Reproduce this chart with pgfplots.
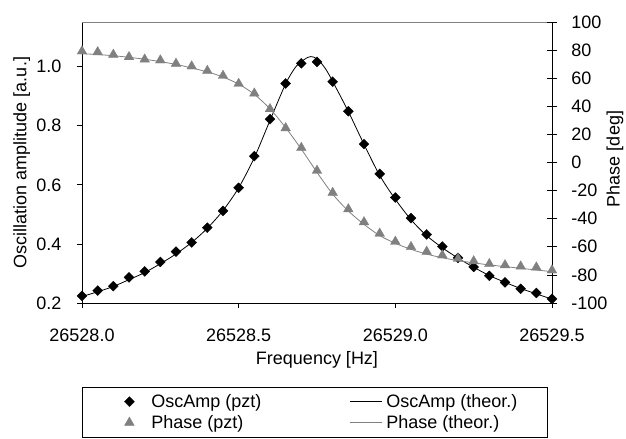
\documentclass[border=0pt]{standalone}
\usepackage{fontspec}
\setmainfont{Liberation Sans}
\usepackage{pgfplots}
\pgfplotsset{compat=1.18}
\definecolor{phasegray}{RGB}{128,128,128}
\newcommand{\fs}{\fontsize{18bp}{21.6bp}\selectfont}

% Frequency is stored as offset from 26528 Hz (offset in Hz)
\pgfplotstableread{
f amp
0.00 0.224
0.05 0.242
0.10 0.257
0.15 0.287
0.20 0.307
0.25 0.339
0.30 0.374
0.35 0.405
0.40 0.455
0.45 0.512
0.50 0.590
0.55 0.697
0.60 0.822
0.65 0.943
0.70 1.011
0.75 1.016
0.80 0.949
0.85 0.849
0.90 0.738
0.95 0.637
1.00 0.557
1.05 0.487
1.10 0.432
1.15 0.391
1.20 0.353
1.25 0.322
1.30 0.292
1.35 0.270
1.40 0.248
1.45 0.234
1.50 0.214
}\ampdata

\pgfplotstableread{
f amp
0.00 0.222
0.05 0.238
0.10 0.256
0.15 0.279
0.20 0.303
0.25 0.333
0.30 0.366
0.35 0.405
0.40 0.453
0.45 0.513
0.50 0.590
0.55 0.692
0.60 0.818
0.65 0.942
0.68 0.996
0.70 1.017
0.72 1.031
0.73 1.034
0.74 1.032
0.76 1.016
0.78 0.988
0.80 0.950
0.85 0.848
0.90 0.737
0.95 0.632
1.00 0.551
1.05 0.482
1.10 0.428
1.15 0.387
1.20 0.352
1.25 0.321
1.30 0.293
1.35 0.270
1.40 0.249
1.45 0.231
1.50 0.213
}\amptheor

\pgfplotstableread{
f ph
0.00 79.2
0.05 78.6
0.10 76.8
0.15 75.1
0.20 73.4
0.25 72.8
0.30 70.4
0.35 68.5
0.40 65.3
0.45 61.8
0.50 56.1
0.55 49.2
0.60 38.1
0.65 24.5
0.70 10.5
0.75 -5.8
0.80 -21.5
0.85 -33.2
0.90 -42.4
0.95 -50.5
1.00 -56.3
1.05 -60.1
1.10 -63.4
1.15 -66.0
1.20 -68.4
1.25 -70.2
1.30 -72.2
1.35 -73.0
1.40 -73.9
1.45 -74.6
1.50 -76.7
}\phdata

\pgfplotstableread{
f ph
0.00 77.5
0.10 76.0
0.20 73.5
0.30 69.8
0.40 64.5
0.45 60.8
0.50 55.8
0.55 48.5
0.60 38.2
0.65 24.8
0.70 9.5
0.75 -7.0
0.80 -22.5
0.85 -34.5
0.90 -44.0
0.95 -52.0
1.00 -57.5
1.05 -61.8
1.10 -65.2
1.15 -67.8
1.20 -69.8
1.25 -71.4
1.30 -72.9
1.40 -75.3
1.50 -77.7
}\phtheor

\pgfplotsset{
  common/.style={
    scale only axis, width=470bp, height=281bp, at={(0,0)}, anchor=south west,
    xmin=0, xmax=1.5,
    tick label style={font=\fs},
    label style={font=\fs},
    axis line style={black, line width=0.8bp},
    major tick style={black, line width=0.8bp},
    clip=false,
  },
  ampmark/.style={only marks, mark=diamond*, mark size=5bp, mark options={xscale=1.333, fill=black, draw=black, line width=0.3bp}},
  phmark/.style={only marks, mark=triangle*, mark size=5.6bp, mark options={fill=phasegray, draw=phasegray, line width=0.3bp}},
  markimg/.style={legend image code/.code={\path[draw=none,fill=none] (0bp,0bp) -- (69bp,0bp); \draw[##1] plot coordinates {(47bp,0bp)};}},
  lineimg/.style={legend image code/.code={\path[draw=none,fill=none] (0bp,0bp) -- (36bp,0bp); \draw[##1] (0bp,0bp) -- (32bp,0bp);}},
}

\begin{document}
\begin{tikzpicture}
\begin{axis}[common,
  axis x line*=bottom, axis y line*=left,
  ymin=0.2, ymax=1.151,
  xtick={0,0.5,1,1.5}, xticklabels={26528.0,26528.5,26529.0,26529.5},
  ytick={0.2,0.4,0.6,0.8,1.0}, yticklabels={0.2,0.4,0.6,0.8,1.0},
  tick align=outside, major tick length=5bp,
  xticklabel style={anchor=base, inner sep=0pt, yshift=-33.7bp},
  yticklabel style={anchor=east, inner sep=0pt, xshift=-15.3bp},
  xlabel={Frequency [Hz]}, ylabel={Oscillation amplitude [a.u.]},
  every axis x label/.style={at={(axis description cs:0.5,0)}, anchor=base, yshift=-61.3bp, font=\fs},
  every axis y label/.style={at={(axis description cs:-0.1185,0.5)}, anchor=base, rotate=90, font=\fs},
]
\draw[phasegray, line width=0.8bp] (rel axis cs:0,1) -- (rel axis cs:1,1);
\addplot[black, line width=0.8bp, smooth, no markers] table[x=f, y=amp] {\amptheor};
\addplot[ampmark] table[x=f, y=amp] {\ampdata};
\end{axis}
\begin{axis}[common,
  axis y line*=right, axis x line=none,
  ymin=-100, ymax=100,
  ytick={-100,-80,-60,-40,-20,0,20,40,60,80,100},
  yticklabels={-100,-80,-60,-40,-20,0,20,40,60,80,100},
  tick align=center, major tick length=10bp,
  yticklabel style={anchor=west, inner sep=0pt, xshift=14.2bp},
  ylabel={Phase [deg]},
  every axis y label/.style={at={(axis description cs:1.1438,0.5125)}, anchor=base, rotate=90, font=\fs},
  legend columns=2,
  legend cell align=left,
  legend style={at={(axis description cs:0,-0.2985)}, anchor=north west, draw=black, line width=0.8bp,
    inner xsep=0pt, inner ysep=7.1bp, row sep=6.4bp, column sep=0pt, font=\fs,
    nodes={inner xsep=0pt, inner ysep=0pt}},
]
\addplot[phasegray, line width=0.8bp, smooth, no markers, forget plot] table[x=f, y=ph] {\phtheor};
\addplot[phmark, forget plot] table[x=f, y=ph] {\phdata};
\addlegendimage{ampmark, markimg}
\addlegendentry{\makebox[198.6bp][l]{OscAmp (pzt)}}
\addlegendimage{black, line width=0.8bp, lineimg}
\addlegendentry{\makebox[160.5bp][l]{OscAmp (theor.)}}
\addlegendimage{phmark, markimg}
\addlegendentry{\makebox[198.6bp][l]{Phase (pzt)}}
\addlegendimage{phasegray, line width=0.8bp, lineimg}
\addlegendentry{\makebox[160.5bp][l]{Phase (theor.)}}
\end{axis}
\pgfresetboundingbox
\path[use as bounding box] (-82bp,-136bp) rectangle (544bp,303bp);
\end{tikzpicture}
\end{document}
